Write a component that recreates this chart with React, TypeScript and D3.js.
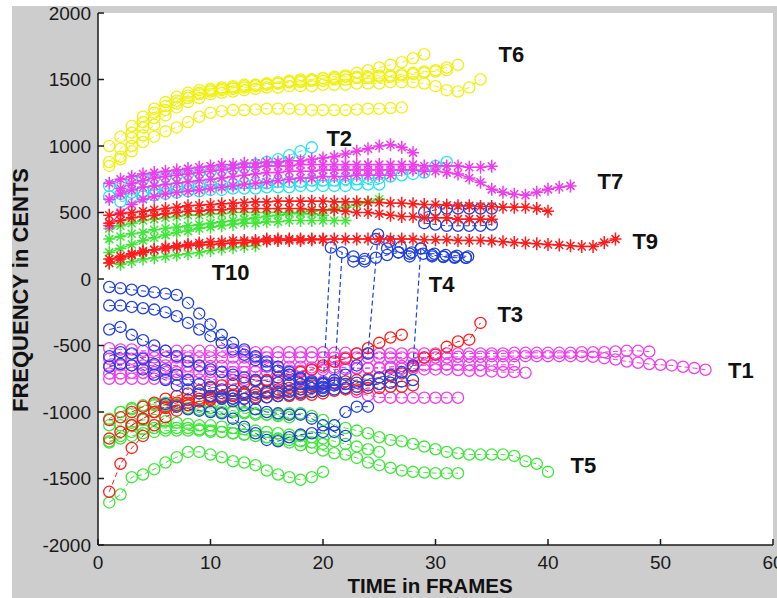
import React from "react";
import * as d3 from "d3";

type Track = { x0: number; v: number[] };

// ---------- DATA (frame start, cents values) ----------
const xTicks = [0, 10, 20, 30, 40, 50, 60];
const yTicks = [-2000, -1500, -1000, -500, 0, 500, 1000, 1500, 2000];

const yellowCircles: Track[] = [
  { x0: 1, v: [880, 980, 1060, 1140, 1210, 1270, 1320, 1360, 1390, 1410, 1420, 1430, 1440, 1450, 1460, 1470, 1480, 1490, 1500, 1510, 1520, 1530, 1550, 1570, 1590, 1610, 1630, 1660, 1690] },
  { x0: 1, v: [1000, 1070, 1150, 1220, 1280, 1330, 1370, 1400, 1420, 1430, 1440, 1450, 1460, 1460, 1470, 1470, 1480, 1480, 1490, 1490, 1500, 1500, 1510, 1510, 1520, 1520, 1530, 1540, 1550, 1570, 1590, 1610] },
  { x0: 2, v: [920, 1000, 1080, 1160, 1230, 1290, 1330, 1360, 1390, 1400, 1410, 1420, 1430, 1440, 1440, 1450, 1450, 1450, 1460, 1460, 1460, 1470, 1470, 1470, 1480, 1480, 1480, 1470, 1450, 1420, 1410, 1440, 1500] },
  { x0: 1, v: [850, 900, 960, 1030, 1070, 1110, 1140, 1180, 1220, 1250, 1262, 1270, 1270, 1275, 1280, 1280, 1280, 1275, 1270, 1270, 1270, 1270, 1275, 1280, 1280, 1285, 1290] },
  { x0: 3, v: [1100, 1180, 1250, 1300, 1340, 1380, 1400, 1420, 1430, 1440, 1450, 1460, 1470, 1480, 1490, 1500, 1500, 1510, 1510, 1520, 1520, 1520, 1530, 1530, 1540, 1550, 1560, 1560, 1570] },
];

const cyanCircles: Track[] = [
  { x0: 1, v: [700, 720, 740, 750, 760, 770, 780, 790, 800, 810, 820, 830, 840, 860, 880, 900, 930, 960, 990] },
  { x0: 1, v: [620, 640, 650, 660, 670, 680, 690, 700, 700, 710, 710, 710, 720, 720, 720, 730, 730, 730, 740, 740, 740, 750, 750, 760, 760, 770, 780, 790, 800, 850, 880] },
  { x0: 2, v: [580, 600, 620, 630, 640, 650, 660, 660, 670, 670, 680, 680, 680, 690, 690, 690, 700, 700, 700, 700, 700, 710, 710, 710] },
];

const magentaStars: Track[] = [
  { x0: 1, v: [600, 640, 670, 690, 700, 710, 720, 730, 740, 750, 760, 770, 780, 790, 800, 800, 810, 810, 810, 820, 820, 820, 820, 820, 820, 820, 820, 820, 810, 810, 800, 790, 760, 727, 674, 652, 637, 630, 652, 674, 690, 700] },
  { x0: 1, v: [720, 750, 770, 790, 800, 810, 820, 830, 840, 850, 860, 860, 870, 870, 880, 880, 890, 890, 900, 910, 920, 940, 960, 980, 1000, 1010, 990, 950] },
  { x0: 2, v: [680, 720, 740, 760, 770, 780, 790, 800, 810, 820, 830, 840, 840, 850, 850, 850, 860, 860, 860, 860, 860, 860, 860, 860, 860, 860, 860, 850, 850, 850, 850, 840, 840, 848] },
  { x0: 1, v: [400, 500, 560, 600, 620, 640, 650, 660, 670, 680, 690, 700, 710, 720, 730, 740, 750, 760, 760, 770, 770, 770, 780, 780, 780, 780] },
];

const redStars: Track[] = [
  { x0: 1, v: [480, 490, 500, 510, 520, 530, 540, 550, 555, 560, 565, 570, 575, 580, 580, 585, 585, 585, 585, 585, 580, 580, 580, 575, 575, 570, 570, 565, 560, 560, 555, 550, 550, 545, 545, 540, 540, 540, 530, 510] },
  { x0: 1, v: [420, 440, 460, 470, 480, 490, 500, 510, 510, 520, 520, 530, 530, 530, 530, 530, 530, 530, 520, 520, 520, 510, 500, 500, 490, 480, 470, 470, 460, 460, 460, 450, 450, 450, 450] },
  { x0: 1, v: [150, 170, 190, 210, 220, 230, 240, 250, 255, 260, 265, 270, 275, 280, 285, 290, 290, 290, 295, 295, 300, 300, 300, 300, 300, 300, 300, 300, 295, 295, 295, 290, 290, 290, 285, 280, 275, 270, 265, 260, 255, 250, 245, 245, 275, 300] },
  { x0: 1, v: [120, 150, 180, 200, 220, 240, 250, 260, 270, 280, 280, 290, 290, 290, 300, 300, 300, 300, 300, 300] },
];

const greenStars: Track[] = [
  { x0: 1, v: [300, 320, 340, 350, 370, 380, 390, 400, 410, 420, 430, 440, 450, 460, 470, 480, 490, 500, 510, 520, 530, 540, 560, 580, 600] },
  { x0: 1, v: [200, 230, 260, 290, 310, 330, 350, 360, 380, 390, 400, 410, 420, 420, 430, 430, 440, 440, 440, 440, 440, 440] },
  { x0: 1, v: [120, 110, 130, 150, 160, 170, 180, 190, 200, 215, 225, 235, 245, 250] },
  { x0: 1, v: [380, 400, 420, 440, 450, 460, 470, 480, 480, 490, 490, 500, 500, 500, 500, 500, 500, 490, 490, 480] },
];

const magentaCircles: Track[] = [
  { x0: 1, v: [-520, -530, -530, -540, -540, -540, -540, -540, -540, -540, -540, -545, -545, -550, -550, -550, -550, -550, -550, -550, -555, -555, -560, -560, -560, -560, -560, -560, -560, -560, -560, -560, -560, -560, -560, -560, -555, -555, -555, -555, -555, -555, -550, -550, -550, -545, -540, -540, -546] },
  { x0: 1, v: [-600, -600, -600, -590, -590, -590, -590, -590, -590, -590, -590, -590, -590, -590, -590, -590, -590, -590, -590, -590, -590, -590, -590, -590, -590, -590, -590, -590, -590, -590, -590, -585, -585, -585, -580, -580, -580, -580, -580, -580, -580, -580, -580, -585, -595, -605, -620, -630, -640, -645, -650, -660, -670, -682] },
  { x0: 1, v: [-650, -650, -650, -650, -650, -650, -650, -655, -655, -655, -655, -660, -660, -660, -660, -660, -660, -660, -665, -665, -665, -665, -670, -670, -670, -670, -675, -675, -680, -680, -680, -685, -690, -690, -695, -700, -700, -705] },
  { x0: 1, v: [-710, -710, -705, -705, -700, -700, -700, -700, -700, -700, -700, -700, -700, -695, -695, -690, -690, -690, -685, -685, -680, -680, -675, -670, -665, -660, -655, -650, -650, -645, -645, -645, -645, -645, -645, -645, -645] },
  { x0: 1, v: [-750, -750, -750, -750, -750, -750, -755, -755, -755, -755, -760, -760, -760, -760, -760, -760, -760, -760, -765, -770, -790, -820, -850, -875, -890, -893, -893, -893, -893, -893, -893, -893] },
];

const redCircles: Track[] = [
  { x0: 1, v: [-1600, -1390, -1270, -1180, -1100, -1040, -990, -950, -920, -900, -880, -870, -860, -850, -840, -830, -820, -810, -800, -790, -780, -770, -760, -750, -740, -730, -710, -660, -590, -570, -510, -470, -456, -330] },
  { x0: 1, v: [-1060, -1040, -1000, -960, -930, -900, -880, -860, -840, -820, -800, -790, -780, -770, -760, -740, -720, -700, -680, -650, -620, -600, -560, -520, -480, -440, -420] },
  { x0: 3, v: [-1100, -1050, -1000, -960, -930, -910, -900, -890, -880, -880, -870, -870, -860, -860, -850, -850, -850, -840, -840, -830, -830, -820, -820, -810, -810, -800] },
  { x0: 1, v: [-1200, -1150, -1100, -1050, -1000, -970, -950, -930, -920, -910, -900, -900, -900, -890, -890, -880, -880, -870, -870, -860] },
];

const blueCircles: Track[] = [
  { x0: 1, v: [-60, -70, -80, -90, -100, -110, -120, -180, -260, -340, -420, -480, -530, -580, -620, -660, -700, -740, -780, -820] },
  { x0: 1, v: [-200, -200, -210, -220, -230, -250, -280, -330, -380, -430, -480, -530, -570, -610, -650, -690, -720, -750, -770, -790, -780] },
  { x0: 1, v: [-380, -360, -420, -460, -500, -540, -580, -620, -650, -680, -700, -720, -740, -760, -770, -780, -790, -790, -790, -780, -760, -720, -650, -560] },
  { x0: 1, v: [-580, -550, -560, -600, -640, -680, -720, -760, -790, -810, -830, -840, -850, -850, -850, -850, -840, -830, -820, -810, -800, -790, -780, -760, -740, -720, -700, -650] },
  { x0: 1, v: [-660, -640, -650, -680, -720, -760, -800, -830, -860, -880, -890, -900, -900, -900, -890, -880, -870, -860, -850, -840, -830, -820, -810, -800, -790, -780, -770, -760] },
  { x0: 6, v: [-940, -960, -980, -990, -1000, -1010, -1050, -1110, -1160, -1210, -1220, -1190, -1170, -1160, -1150, -1100, -1000, -960, -960] },
  { x0: 10, v: [-880, -900, -920, -950, -980, -1000, -1010, -1020, -1020, -1050, -1100, -1150, -1180] },
  { x0: 20.7, v: [237, 200, 170, 150, 160, 180, 200, 190, 230, 170, 165, 160, 160] },
  { x0: 22.7, v: [132, 132, 300, 230, 200, 170, 230, 180, 170, 165, 160] },
  { x0: 24.9, v: [335, 280, 240, 200, 190, 190, 180, 175, 170] },
  { x0: 29, v: [500, 520, 530, 530, 530, 530, 530] },
  { x0: 29, v: [420, 410, 400, 400, 400, 400, 410] },
];

// octave jumps of the blue tracks: [frame, cents] pairs
const blueJumps: [number, number][][] = [
  [[20, -820], [20.7, 237]],
  [[21, -780], [21.7, 200]],
  [[24, -560], [24.9, 335]],
  [[28, -650], [28.7, 230]],
];

const greenCircles: Track[] = [
  { x0: 1, v: [-1680, -1620, -1490, -1470, -1430, -1380, -1340, -1300, -1300, -1320, -1340, -1370, -1380, -1400, -1440, -1470, -1490, -1510, -1490, -1450] },
  { x0: 1, v: [-1050, -1000, -980, -960, -950, -950, -960, -970, -980, -990, -1000, -1000, -1010, -1020, -1020, -1020, -1010, -1010, -1030, -1060, -1100, -1120, -1140, -1160, -1190, -1210, -1220, -1240, -1260, -1280, -1300, -1310, -1320, -1320, -1320, -1320, -1330, -1370, -1390, -1450] },
  { x0: 1, v: [-1220, -1200, -1180, -1160, -1150, -1140, -1140, -1140, -1140, -1150, -1150, -1160, -1170, -1180, -1190, -1210, -1230, -1250, -1270, -1290, -1310, -1320, -1345, -1380, -1400, -1420, -1440, -1450, -1455, -1460, -1460, -1460] },
  { x0: 1, v: [-1100, -1100, -1080, -1060, -1060, -1070, -1080, -1090, -1100, -1100, -1110, -1120, -1130, -1140, -1150, -1160, -1170, -1180, -1190, -1200, -1220, -1240, -1260, -1280, -1300] },
  { x0: 1, v: [-1230, -1180, -1150, -1130, -1120, -1120, -1120, -1120, -1130, -1140, -1150, -1160, -1170, -1180, -1190, -1200, -1210, -1220, -1230, -1240] },
  { x0: 2, v: [-1000, -970, -950, -940, -930, -940, -950, -960, -970, -980, -990, -1000, -1010, -1020, -1030, -1040] },
];

const trackLabels = ["T6", "T2", "T7", "T9", "T10", "T4", "T3", "T1", "T5"];
const labelFrames = [35.6, 20.3, 44.4, 47.5, 10.1, 29.4, 35.5, 56.0, 42.0];
const labelCents = [1631, 998, 674, 222, -11, -94, -320, -742, -1458];

// ---------- STYLE ----------
const W = 777;
const H = 598;
const C = {
  yellow: "#f0f012",
  cyan: "#22e2ee",
  magenta: "#ee3cee",
  red: "#ff1c1c",
  green: "#40e63a",
  blue: "#2040dc",
};

export default function App() {
  const x = d3.scaleLinear().domain([0, 60]).range([98, 773]);
  const y = d3.scaleLinear().domain([-2000, 2000]).range([545, 13]);
  const pts = (t: Track): [number, number][] => t.v.map((v, i) => [x(t.x0 + i), y(v)]);
  const line = d3.line<[number, number]>();
  const R = 5.6;

  const circleGroup = (tracks: Track[], color: string, key: string) => (
    <g key={key} fill="none" stroke={color}>
      {tracks.map((t, ti) => {
        const p = pts(t);
        return (
          <g key={ti}>
            <path d={line(p) || ""} strokeWidth={1} strokeDasharray="5,3" />
            {p.map((q, i) => (
              <circle key={i} cx={q[0]} cy={q[1]} r={R} strokeWidth={1.3} />
            ))}
          </g>
        );
      })}
    </g>
  );

  const starPath = (cx: number, cy: number) => {
    const a = 6.5, b = 6, c = 4;
    return `M${cx},${cy - a}V${cy + a}M${cx - b},${cy}H${cx + b}M${cx - c},${cy - c}L${cx + c},${cy + c}M${cx - c},${cy + c}L${cx + c},${cy - c}`;
  };

  const starGroup = (tracks: Track[], color: string, key: string) => (
    <g key={key} fill="none" stroke={color}>
      {tracks.map((t, ti) => {
        const p = pts(t);
        return (
          <g key={ti}>
            <path d={line(p) || ""} strokeWidth={1.2} />
            <path d={p.map((q) => starPath(q[0], q[1])).join("")} strokeWidth={1.5} />
          </g>
        );
      })}
    </g>
  );

  const font = "'Liberation Sans', Arial, Helvetica, sans-serif";

  return (
    <svg
      width={W}
      height={H}
      style={{ position: "absolute", left: 0, top: 0, display: "block" }}
      fontFamily={font}
    >
      <rect x={0} y={0} width={W} height={H} fill="#ffffff" />
      <rect x={12} y={6} width={W - 12} height={H - 6} fill="#cdcdcd" />
      <rect x={98} y={13} width={773 - 98} height={545 - 13} fill="#ffffff" />

      {circleGroup(yellowCircles, C.yellow, "y")}
      {circleGroup(cyanCircles, C.cyan, "c")}
      {circleGroup(greenCircles, C.green, "gc")}
      {circleGroup(magentaCircles, C.magenta, "mc")}
      {circleGroup(redCircles, C.red, "rc")}
      {circleGroup(blueCircles, C.blue, "bc")}
      <g fill="none" stroke={C.blue} strokeWidth={1.2} strokeDasharray="5,3">
        {blueJumps.map((j, i) => (
          <path key={i} d={line(j.map((p) => [x(p[0]), y(p[1])] as [number, number])) || ""} />
        ))}
      </g>
      {starGroup(greenStars, C.green, "gs")}
      {starGroup(magentaStars, C.magenta, "ms")}
      {starGroup(redStars, C.red, "rs")}

      {/* axes */}
      <g stroke="#1a1a1a" strokeWidth={1.5} fill="none">
        <line x1={98} y1={13} x2={98} y2={545} />
        <line x1={98} y1={545} x2={773} y2={545} />
        {yTicks.map((t) => (
          <line key={"yt" + t} x1={98} x2={104} y1={y(t)} y2={y(t)} />
        ))}
        {xTicks.map((t) => (
          <line key={"xt" + t} x1={x(t)} x2={x(t)} y1={545} y2={539} />
        ))}
      </g>
      <g fill="#1a1a1a" fontSize={19}>
        {yTicks.map((t) => (
          <text key={"yl" + t} x={91} y={y(t)} dy="0.36em" textAnchor="end">
            {t}
          </text>
        ))}
        {xTicks.map((t) => (
          <text key={"xl" + t} x={x(t)} y={569} textAnchor="middle">
            {t}
          </text>
        ))}
      </g>
      <text x={430} y={593} textAnchor="middle" fontSize={20.5} fontWeight="bold" fill="#111">
        TIME in FRAMES
      </text>
      <text
        transform="translate(28,290) rotate(-90)"
        textAnchor="middle"
        fontSize={22}
        fontWeight="bold"
        fill="#111"
      >
        FREQUENCY in CENTS
      </text>

      <g fontSize={22} fontWeight="bold" fill="#111">
        {trackLabels.map((s, i) => (
          <text key={s} x={x(labelFrames[i])} y={y(labelCents[i])}>
            {s}
          </text>
        ))}
      </g>
    </svg>
  );
}
